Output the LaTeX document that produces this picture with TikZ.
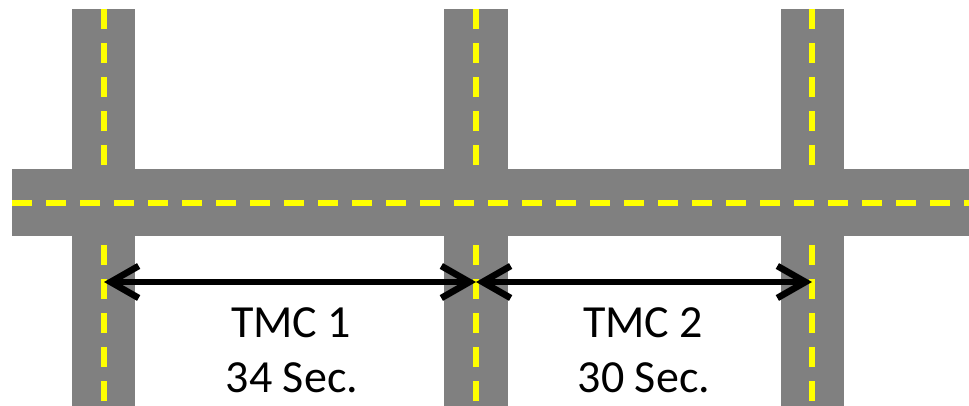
\documentclass[tikz,border=0pt]{standalone}
\usepackage{fontspec}
\setmainfont{Carlito}
\usetikzlibrary{arrows.meta}
\definecolor{road}{HTML}{808080}
\definecolor{lane}{HTML}{FFFF00}
\tikzset{
  roadfill/.style={fill=road, draw=none},
  lanemark/.style={draw=lane, line width=2.6pt, dash pattern=on 10pt off 7pt},
  barb/.tip={Straight Barb[length=14pt, width=16pt, line width=3.3pt]},
  span/.style={line width=3.3pt, barb-barb},
  lbl/.style={font=\fontsize{23}{27}\selectfont, anchor=base, inner sep=0pt}
}
\begin{document}
\begin{tikzpicture}[x=0.5pt, y=-0.5pt]
\useasboundingbox (0,0) rectangle (969,406);
% vertical roads
\fill[roadfill] (72,9) rectangle (135,406);
\fill[roadfill] (444,9) rectangle (508,406);
\fill[roadfill] (781,9) rectangle (844,406);
% vertical lane marks (top and bottom parts)
\foreach \cx in {104,476,812} {
  \draw[lanemark] (\cx,9) -- (\cx,169);
  \draw[lanemark] (\cx,245) -- (\cx,406);
}
% horizontal road
\fill[roadfill] (12,169) rectangle (969,236);
\draw[lanemark] (12,203) -- (969,203);
% span coordinates
\coordinate (a) at (104,282);
\coordinate (b) at (476,282);
\coordinate (c) at (812,282);
\draw[span] (a) -- (b);
\draw[span] (b) -- (c);
% labels
\node[lbl] (t1) at (291,337) {TMC 1};
\node[lbl] (s1) at (292,392) {34 Sec.};
\node[lbl] (t2) at (643,337) {TMC 2};
\node[lbl] (s2) at (644,392) {30 Sec.};
\end{tikzpicture}
\end{document}
